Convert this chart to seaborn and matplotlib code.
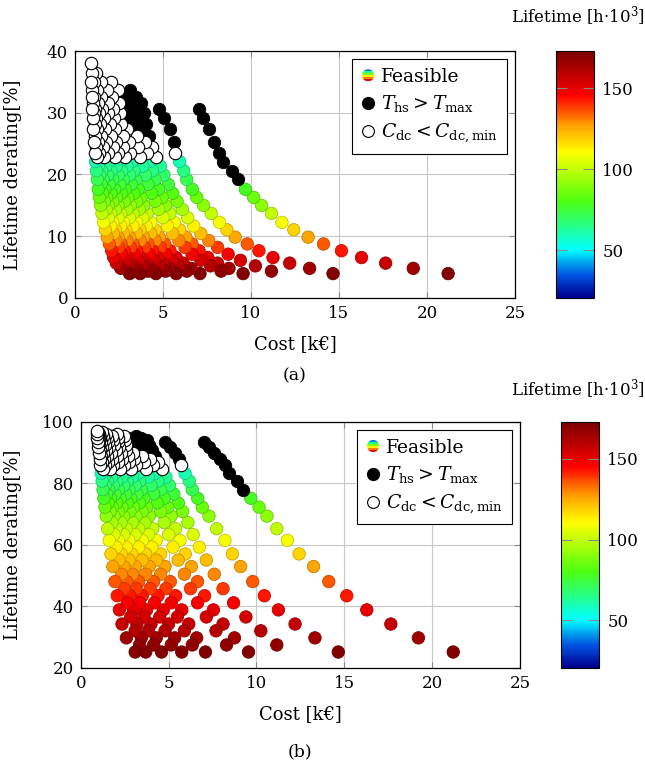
import matplotlib
matplotlib.use('Agg')
import matplotlib.pyplot as plt
from matplotlib.colors import LinearSegmentedColormap, Normalize
from matplotlib.patches import Circle, Rectangle
from matplotlib.legend_handler import HandlerBase
from matplotlib.lines import Line2D
from matplotlib.cm import ScalarMappable
import seaborn as sns
import numpy as np
import pandas as pd

# derating levels shared by all design curves: panel (b) value, panel (a) value, lifetime
LEVEL_B = [25.1, 27.4, 29.7, 32.0, 34.2, 36.5, 38.8, 41.1, 43.4, 45.7, 48.0, 50.4,
           52.9, 55.0, 57.0, 59.2, 61.4, 63.3, 65.2, 67.2, 69.3, 70.8, 72.2, 73.6,
           75.1, 76.5, 77.9, 79.3, 80.7, 82.0, 83.2, 84.5, 85.8, 86.9, 87.9, 88.9,
           89.8, 90.8, 91.7, 92.5, 93.3, 94.1, 94.8, 95.4, 96.0, 96.5, 97.0]
LEVEL_A = [3.95, 4.35, 4.8, 5.2, 5.65, 6.1, 6.55, 7.1, 7.65, 8.2, 8.75, 9.3,
           9.85, 10.45, 11.05, 11.65, 12.25, 13.0, 13.7, 14.35, 15.0, 15.65, 16.3, 16.95,
           17.6, 18.4, 19.2, 19.9, 20.6, 21.35, 22.1, 22.8, 23.5, 24.4, 25.3, 26.3,
           27.3, 28.2, 29.2, 29.9, 30.6, 31.5, 32.5, 33.7, 35.0, 36.5, 38.0]
LEVEL_LIFE = [171, 168, 165, 161, 157, 154, 150, 147, 143, 139, 135, 130,
              126, 122, 118, 113, 109, 104, 100, 96, 91, 88, 85, 81,
              78, 75, 72, 69, 66, 63, 60, 57, 54, 51, 48, 45,
              42, 39, 36, 33, 30, 28, 26, 24, 22, 21, 21]

# each curve: first level index, costs [k€] from bottom to top (every second level),
# status per point: f = feasible, h = T_hs > T_max, c = C_dc < C_dc,min
CURVE_START = [0, 0, 1, 0, 1, 0, 1, 0, 1, 0, 1, 0, 1, 0]
CURVE_COST = [
    [21.2, 19.22, 17.65, 16.28, 15.14, 14.12, 13.25, 12.43, 11.76, 11.16, 10.6, 10.15,
     9.68, 9.25, 8.9, 8.42, 8.2, 7.9, 7.6, 7.3, 7.04],
    [14.66, 13.33, 12.2, 11.25, 10.45, 9.79, 9.1, 8.63, 8.21, 7.74, 7.3, 6.92,
     6.66, 6.35, 6.18, 5.94, 5.69, 5.61, 5.37, 5.08, 4.8],
    [11.16, 10.25, 9.4, 8.7, 8.1, 7.6, 7.15, 6.75, 6.4, 6.1, 5.8, 5.55,
     5.3, 5.05, 4.85, 4.6, 4.4, 4.2, 4.05, 3.9, 3.75],
    [9.55, 8.75, 8.1, 7.55, 7.05, 6.65, 6.3, 5.95, 5.65, 5.4, 5.15, 4.95,
     4.75, 4.55, 4.4, 4.25, 4.1, 3.95, 3.85, 3.7, 3.6, 3.45],
    [8.3, 7.7, 7.15, 6.65, 6.25, 5.9, 5.55, 5.25, 5.0, 4.75, 4.55, 4.35,
     4.15, 4.0, 3.85, 3.7, 3.6, 3.5, 3.4, 3.3, 3.2, 3.15],
    [7.1, 6.6, 6.15, 5.75, 5.4, 5.1, 4.8, 4.55, 4.3, 4.1, 3.9, 3.75,
     3.6, 3.45, 3.35, 3.25, 3.15, 3.05, 2.95, 2.9, 2.8, 2.7],
    [6.35, 5.9, 5.5, 5.15, 4.85, 4.55, 4.3, 4.05, 3.85, 3.65, 3.5, 3.35,
     3.2, 3.1, 2.95, 2.85, 2.75, 2.7, 2.6, 2.55, 2.5, 2.45],
    [5.75, 5.35, 5.0, 4.7, 4.4, 4.15, 3.9, 3.7, 3.5, 3.3, 3.15, 3.0,
     2.85, 2.75, 2.65, 2.55, 2.45, 2.35, 2.3, 2.2, 2.15, 2.1, 2.05],
    [5.15, 4.8, 4.5, 4.2, 3.95, 3.7, 3.5, 3.3, 3.1, 2.95, 2.8, 2.65,
     2.55, 2.45, 2.35, 2.25, 2.15, 2.05, 2.0, 1.9, 1.85, 1.8],
    [4.6, 4.3, 4.0, 3.75, 3.5, 3.3, 3.1, 2.9, 2.75, 2.6, 2.45, 2.35,
     2.25, 2.15, 2.05, 1.95, 1.85, 1.78, 1.7, 1.62, 1.55, 1.5, 1.45],
    [4.15, 3.85, 3.6, 3.35, 3.15, 2.95, 2.75, 2.6, 2.45, 2.3, 2.15, 2.05,
     1.95, 1.85, 1.75, 1.65, 1.58, 1.5, 1.43, 1.37, 1.3, 1.25, 1.2],
    [3.7, 3.45, 3.2, 3.0, 2.8, 2.62, 2.45, 2.3, 2.15, 2.02, 1.9, 1.8,
     1.7, 1.6, 1.52, 1.45, 1.38, 1.32, 1.26, 1.2, 1.15, 1.1, 1.06],
    [3.35, 3.1, 2.85, 2.65, 2.48, 2.32, 2.18, 2.03, 1.9, 1.78, 1.67, 1.57,
     1.48, 1.4, 1.33, 1.27, 1.21, 1.16, 1.11, 1.06, 1.02, 0.99, 0.96],
    [3.1, 2.6, 2.35, 2.2, 2.08, 1.95, 1.83, 1.72, 1.62, 1.53, 1.45, 1.38,
     1.32, 1.27, 1.22, 1.17, 1.12, 1.08, 1.04, 1.0, 0.97, 0.95, 0.93, 0.92],
]
CURVE_STATUS = [
    "fffffffffffff" + "hhhhhhhh",
    "ffffffffffffffff" + "c" + "hhhh",
    "fffffffffffffff" + "cc" + "hhhh",
    "ffffffffffffffff" + "cc" + "hhhh",
    "fffffffffffffff" + "ccc" + "hhhh",
    "ffffffffffffffff" + "ccc" + "hhh",
    "fffffffffffffff" + "ccccccc",
    "ffffffffffffffff" + "ccccccc",
    "fffffffffffffff" + "ccccccc",
    "ffffffffffffffff" + "ccccccc",
    "fffffffffffffff" + "cccccccc",
    "ffffffffffffffff" + "ccccccc",
    "fffffffffffffff" + "cccccccc",
    "ffffffffffffffff" + "cccccccc",
]

LIFE_MIN, LIFE_MAX = 20.5, 173
CBAR_TICKS = [50, 100, 150]

rows = []
for start, costs, status in zip(CURVE_START, CURVE_COST, CURVE_STATUS):
    for i, (c, st) in enumerate(zip(costs, status)):
        lv = start + 2 * i
        rows.append({'cost': c, 'der_a': LEVEL_A[lv], 'der_b': LEVEL_B[lv],
                     'life': LEVEL_LIFE[lv], 'status': st})
df = pd.DataFrame(rows)

plt.rcParams['font.family'] = 'DejaVu Serif'
plt.rcParams['mathtext.fontset'] = 'dejavuserif'

cmap = LinearSegmentedColormap.from_list('life', [
    (0.0, '#00008c'), (0.09, '#0050e0'), (0.195, '#00ffff'), (0.39, '#4cff10'),
    (0.59, '#ffff00'), (0.70, '#ffa000'), (0.82, '#ff0000'), (1.0, '#7a0000')])
norm = Normalize(LIFE_MIN, LIFE_MAX)
S = 80


class RainbowProxy:
    pass


class RainbowHandler(HandlerBase):
    def create_artists(self, legend, orig_handle, xdescent, ydescent,
                       width, height, fontsize, trans):
        cx = width / 2 - xdescent
        cy = height / 2 - ydescent
        r = 4.4
        circ = Circle((cx, cy), r, transform=trans)
        cols = [cmap(v) for v in [0.12, 0.3, 0.45, 0.6, 0.72, 0.85]]
        n = len(cols)
        arts = []
        for i, col in enumerate(cols):
            rect = Rectangle((cx - r, cy + r - (i + 1) * 2 * r / n), 2 * r, 2 * r / n,
                             facecolor=col, edgecolor='none', transform=trans)
            rect.set_clip_path(circ)
            arts.append(rect)
        return arts


def draw_panel(ax, cax, ycol, ylim, yticks):
    feas = df[df['status'] == 'f']
    hot = df[df['status'] == 'h']
    low = df[df['status'] == 'c']
    edges = np.array(cmap(norm(feas['life'].values)))
    edges[:, :3] *= 0.78
    sns.scatterplot(data=feas, x='cost', y=ycol, hue='life', palette=cmap, hue_norm=norm,
                    s=S, edgecolor=edges, linewidth=0.6, legend=False, ax=ax, zorder=3)
    sns.scatterplot(data=hot, x='cost', y=ycol, color='black', edgecolor='black',
                    s=S, linewidth=0.6, legend=False, ax=ax, zorder=3)
    sns.scatterplot(data=low, x='cost', y=ycol, color='white', edgecolor='black',
                    s=S, linewidth=0.8, legend=False, ax=ax, zorder=3)
    ax.set_xlim(0, 25)
    ax.set_ylim(*ylim)
    ax.set_xticks([0, 5, 10, 15, 20, 25])
    ax.set_yticks(yticks)
    ax.grid(True, color='#c8c8c8', lw=0.8)
    ax.set_axisbelow(True)
    for sp in ax.spines.values():
        sp.set_color('black')
        sp.set_linewidth(0.9)
    ax.tick_params(direction='in', length=4, color='#888888', top=True, right=True,
                   labelsize=12, pad=5)
    ax.set_xlabel('Cost [k€]', fontsize=13)
    ax.set_ylabel('Lifetime derating[%]', fontsize=13)

    handles = [RainbowProxy(),
               Line2D([], [], ls='none', marker='o', ms=8.5, mfc='black', mec='black'),
               Line2D([], [], ls='none', marker='o', ms=8.5, mfc='white', mec='black', mew=0.8)]
    labels = ['Feasible', r'$T_{\mathrm{hs}} > T_{\mathrm{max}}$',
              r'$C_{\mathrm{dc}} < C_{\mathrm{dc,min}}$']
    leg = ax.legend(handles, labels, handler_map={RainbowProxy: RainbowHandler()},
                    loc='upper right', fancybox=False, framealpha=1, edgecolor='black',
                    fontsize=13.5, borderaxespad=0.45, handlelength=0.8, handletextpad=0.3,
                    labelspacing=0.4, borderpad=0.45)
    leg.get_frame().set_linewidth(0.8)
    leg.set_zorder(5)

    sm = ScalarMappable(norm=norm, cmap=cmap)
    cb = plt.colorbar(sm, cax=cax)
    cb.set_ticks(CBAR_TICKS)
    cb.outline.set_linewidth(0.8)
    cax.tick_params(direction='in', length=8, color='#888888', left=True, right=True,
                    labelsize=12, pad=6)


fig = plt.figure(figsize=(6.45, 7.68), dpi=100)
W, H = 645, 768
ax_a = fig.add_axes([75 / W, 1 - 298 / H, 440 / W, 247 / H])
cax_a = fig.add_axes([556 / W, 1 - 298 / H, 38 / W, 247 / H])
ax_b = fig.add_axes([80.7 / W, 1 - 667.7 / H, 439.3 / W, 246 / H])
cax_b = fig.add_axes([561 / W, 1 - 668 / H, 38 / W, 246.3 / H])

draw_panel(ax_a, cax_a, 'der_a', (0, 40), [0, 10, 20, 30, 40])
draw_panel(ax_b, cax_b, 'der_b', (20, 100), [20, 40, 60, 80, 100])

ax_a.yaxis.set_label_coords((22 - 75) / 440, 0.5)
ax_b.yaxis.set_label_coords((22 - 80.7) / 439.3, 0.5)
ax_a.xaxis.set_label_coords(0.5, (298 - 335) / 247)
ax_b.xaxis.set_label_coords(0.5, (667.7 - 705) / 246)

fig.text(295 / W, 1 - 376 / H, '(a)', ha='center', va='center', fontsize=12.5)
fig.text(300 / W, 1 - 752 / H, '(b)', ha='center', va='center', fontsize=12.5)
fig.text(511 / W, 1 - 16 / H, 'Lifetime [h·10$^3$]', ha='left', va='center', fontsize=12)
fig.text(511 / W, 1 - 389 / H, 'Lifetime [h·10$^3$]', ha='left', va='center', fontsize=12)

fig.savefig('out.png', dpi=100)
